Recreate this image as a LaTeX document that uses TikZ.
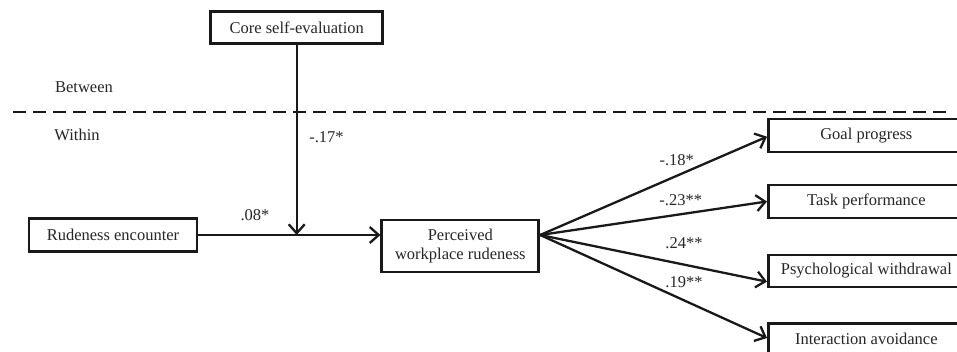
\documentclass[tikz,border=0pt]{standalone}
\usepackage{fontspec}
\setmainfont{Liberation Serif}
\usetikzlibrary{arrows.meta,calc}
\begin{document}
\begin{tikzpicture}[x=1pt,y=-1pt,
  box/.style={draw=black!90,line width=2.7pt,inner sep=0pt,font=\fontsize{16.5}{19}\selectfont,text=black!85},
  lbl/.style={inner sep=0pt,font=\fontsize{16.5}{19}\selectfont,text=black!85},
  arr/.style={draw=black!90,line width=2.3pt,-{Straight Barb[length=9pt,width=16pt,line width=2.3pt]}}]
\clip (0,0) rectangle (957,352);
\fill[white] (0,0) rectangle (957,352);
\node[box,minimum width=172,minimum height=32] (cse) at (296.7,27.5) {Core self-evaluation};
\node[box,minimum width=168,minimum height=33] (re) at (113,235) {Rudeness encounter};
\node[box,minimum width=157,minimum height=52,align=center] (per) at (460.3,246) {Perceived\\workplace rudeness};
\node[box,minimum width=196,minimum height=33,anchor=west] (gp) at (767,135.5) {Goal progress};
\node[box,minimum width=196,minimum height=33,anchor=west] (tp) at (767,201.5) {Task performance};
\node[box,minimum width=196,minimum height=32,anchor=west] (pw) at (767,271) {Psychological withdrawal};
\node[box,minimum width=196,minimum height=32,anchor=north west] (ia) at (767,322) {Interaction avoidance};
\node[lbl] (bt) at (84,87) {Between};
\node[lbl] (wi) at (77,135) {Within};
\coordinate (dl) at (13,112);
\coordinate (dr) at (950,112);
\draw[line width=2.3pt,dash pattern=on 13pt off 7pt,black!90] (dl) -- (dr);
\coordinate (src) at (per.east |- re.east);
\coordinate (mid) at (cse.south |- re.east);
\draw[arr] (re.east) -- (re.east -| per.west);
\draw[arr] (cse.south) -- (mid);
\draw[arr] (src) -- ($(gp.west)+(0,1.2)$);
\draw[arr] (src) -- (tp.west);
\draw[arr] (src) -- ($(pw.west)+(0,10.7)$);
\draw[arr] (src) -- ($(ia.west)+(0,-1.3)$);
\node[lbl] (l17) at (326.5,136.7) {-.17*};
\node[lbl] (l08) at (255,215) {.08*};
\node[lbl] (l18) at (676.7,160) {-.18*};
\node[lbl] (l23) at (680.7,200) {-.23**};
\node[lbl] (l24) at (684,242.7) {.24**};
\node[lbl] (l19) at (684,281.7) {.19**};
\end{tikzpicture}
\end{document}
